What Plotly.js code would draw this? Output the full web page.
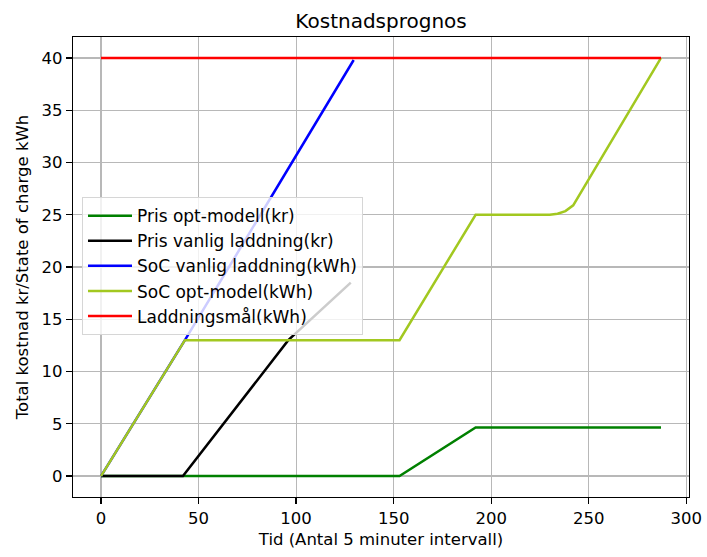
<!DOCTYPE html>
<html>
<head>
<meta charset="utf-8">
<script src="https://cdn.plot.ly/plotly-3.0.1.min.js"></script>
<style>html,body{margin:0;padding:0;background:#fff;}#chart{width:707px;height:557px;}</style>
</head>
<body>
<div id="chart"></div>
<script>
// Data (breakpoints of piecewise-linear curves)
const seriesNames = ["Pris opt-modell(kr)", "Pris vanlig laddning(kr)", "SoC vanlig laddning(kWh)", "SoC opt-model(kWh)", "Laddningsmål(kWh)"];

const prisOptX = [0, 153, 192, 287];
const prisOptY = [0, 0, 4.65, 4.65];

const prisVanligX = [0, 42, 96, 128];
const prisVanligY = [0, 0, 13, 18.5];

const socVanligX = [0, 43, 129.5];
const socVanligY = [0, 13, 39.8];

const socOptX = [0, 43, 153, 192, 230, 234, 238, 242, 287];
const socOptY = [0, 13, 13, 25, 25, 25.1, 25.35, 25.9, 40];

const maalX = [0, 287];
const maalY = [40, 40];

const xTicks = [0, 50, 100, 150, 200, 250, 300];
const yTicks = [0, 5, 10, 15, 20, 25, 30, 35, 40];

const colors = ["#008000", "#000000", "#0000ff", "#a2c820", "#ff0000"];
const xs = [prisOptX, prisVanligX, socVanligX, socOptX, maalX];
const ys = [prisOptY, prisVanligY, socVanligY, socOptY, maalY];

const traces = seriesNames.map((n, i) => ({
  type: "scatter", mode: "lines", name: n,
  x: xs[i], y: ys[i], legendgroup: "g" + i,
  line: {color: colors[i], width: 2.5}
}));

const font = "DejaVu Sans, sans-serif";
const layout = {
  width: 707, height: 557,
  margin: {l: 73, r: 18, t: 37, b: 60},
  paper_bgcolor: "#fff", plot_bgcolor: "#fff",
  font: {family: font, size: 16.5, color: "#000"},
  title: {text: "Kostnadsprognos", font: {family: font, size: 20, color: "#000"}, x: 0.5390, xanchor: "center", y: 0.962, yanchor: "middle"},
  xaxis: {
    range: [-14.35, 301.35], tickvals: xTicks, ticktext: xTicks.map(String),
    showgrid: true, gridcolor: "#b8b8b8", gridwidth: 1.2, zeroline: false,
    showline: true, linecolor: "#000", linewidth: 1.3, mirror: true,
    ticks: "outside", ticklen: 6, tickwidth: 1.3, tickcolor: "#000",
    tickfont: {family: font, size: 16.5, color: "#000"},
    title: {text: "Tid (Antal 5 minuter intervall)", font: {family: font, size: 16.5, color: "#000"}, standoff: 6}
  },
  yaxis: {
    range: [-2, 42], tickvals: yTicks, ticktext: yTicks.map(String),
    showgrid: true, gridcolor: "#b8b8b8", gridwidth: 1.2, zeroline: false,
    showline: true, linecolor: "#000", linewidth: 1.3, mirror: true,
    ticks: "outside", ticklen: 6, tickwidth: 1.3, tickcolor: "#000",
    tickfont: {family: font, size: 16.5, color: "#000"},
    title: {text: "Total kostnad kr/State of charge kWh", font: {family: font, size: 16.5, color: "#000"}, standoff: 8}
  },
  showlegend: true,
  legend: {
    x: 0.0146, y: 0.652, xanchor: "left", yanchor: "top",
    bgcolor: "rgba(255,255,255,0.8)", bordercolor: "#d6d6d6", borderwidth: 1,
    font: {family: font, size: 17, color: "#000"},
    tracegroupgap: 1, traceorder: "normal", itemwidth: 44
  }
};

Plotly.newPlot("chart", traces, layout, {displayModeBar: false, staticPlot: true});
</script>
</body>
</html>
